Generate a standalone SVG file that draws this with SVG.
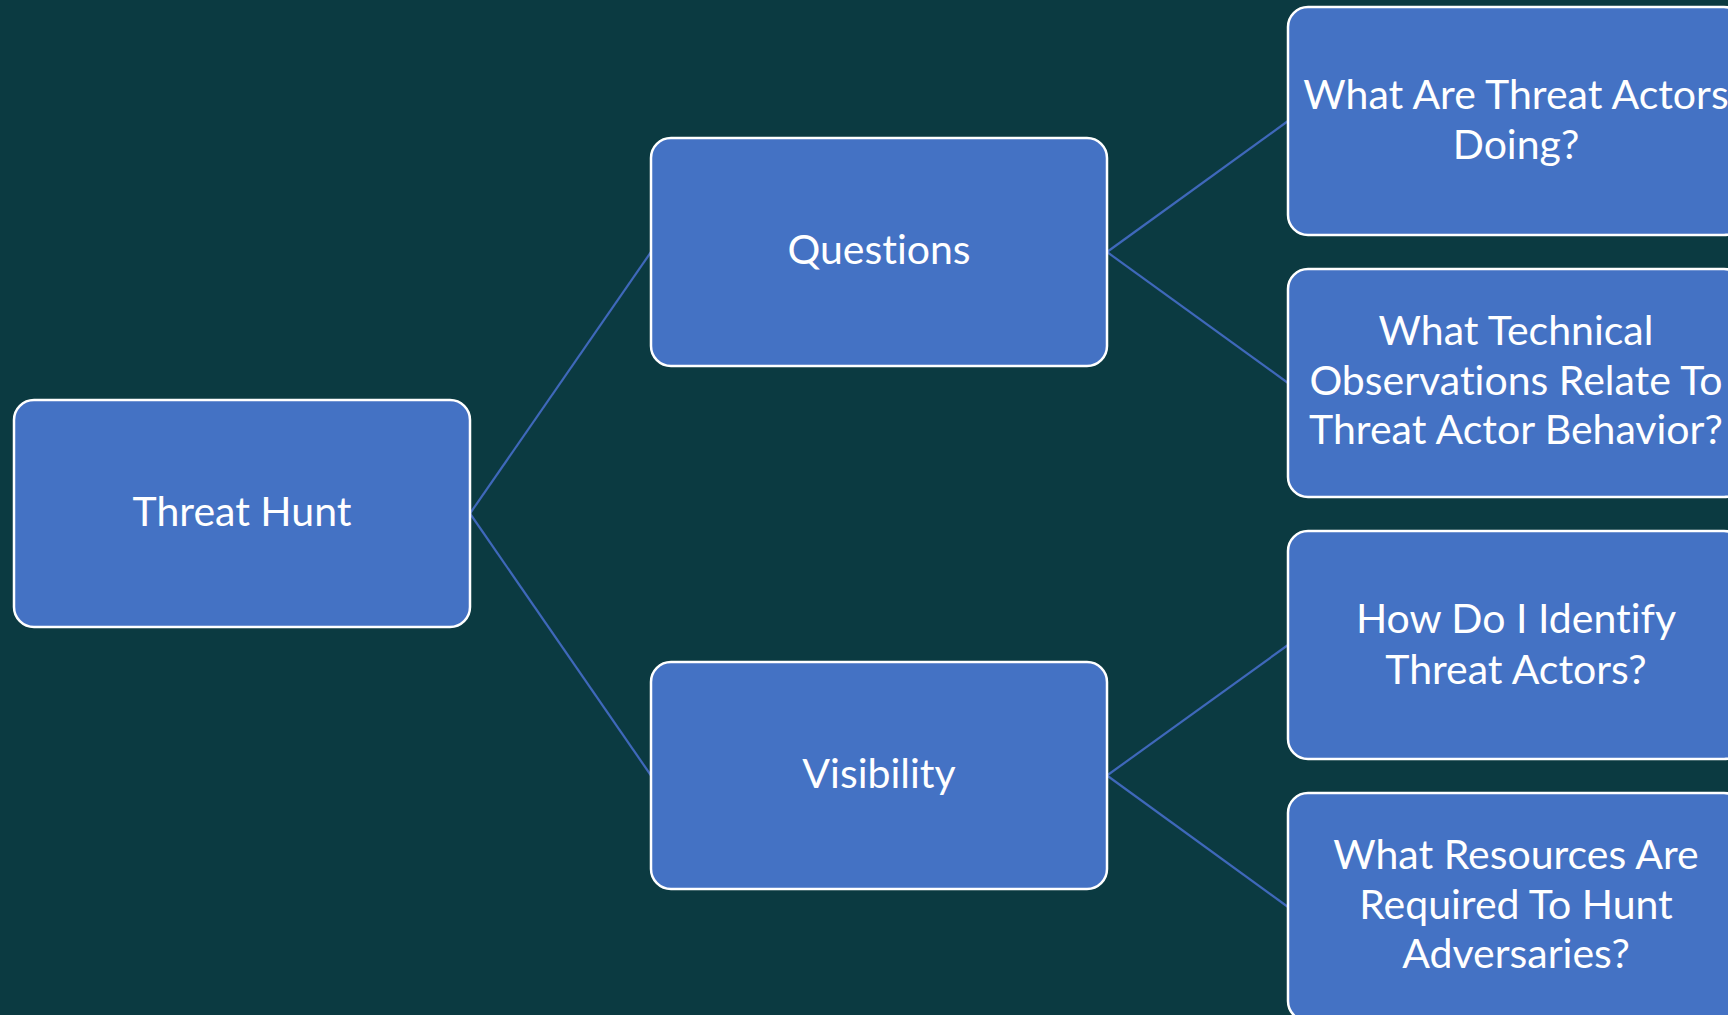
<svg xmlns="http://www.w3.org/2000/svg" width="1728" height="1015" viewBox="0 0 1728 1015">
  <style>
    .box { fill: #4472C4; stroke: #FFFFFF; stroke-width: 2.5; }
    .lbl { fill: #FFFFFF; font-family: Lato, "Open Sans", "Liberation Sans", sans-serif; font-size: 41px; text-anchor: middle; font-variant-ligatures: none; }
    .link { stroke: #3F68BA; stroke-width: 2.2; fill: none; }
  </style>
  <rect width="1728" height="1015" fill="#0B3A41"/>

  <!-- tree connectors -->
  <g id="connectors">
    <path class="link" d="M470,513.5 L651,252"/>
    <path class="link" d="M470,513.5 L651,775.5"/>
    <path class="link" d="M1107,252 L1288,121"/>
    <path class="link" d="M1107,252 L1288,383"/>
    <path class="link" d="M1107,775.5 L1288,645"/>
    <path class="link" d="M1107,775.5 L1288,907"/>
  </g>

  <g id="threat-hunt">
    <rect class="box" x="14" y="400" width="456" height="227" rx="20"/>
    <text class="lbl" x="242" y="526">Threat Hunt</text>
  </g>

  <g id="questions">
    <rect class="box" x="651" y="138" width="456" height="228" rx="20"/>
    <text class="lbl" x="879" y="264">Questions</text>
  </g>

  <g id="visibility">
    <rect class="box" x="651" y="662" width="456" height="227" rx="20"/>
    <text class="lbl" x="879" y="788">Visibility</text>
  </g>

  <g id="q-doing">
    <rect class="box" x="1288" y="7" width="456" height="228" rx="20"/>
    <text class="lbl" x="1516" y="109">What Are Threat Actors</text>
    <text class="lbl" x="1516" y="159">Doing?</text>
  </g>

  <g id="q-observations">
    <rect class="box" x="1288" y="269" width="456" height="228" rx="20"/>
    <text class="lbl" x="1516" y="345">What Technical</text>
    <text class="lbl" x="1516" y="395">Observations Relate To</text>
    <text class="lbl" x="1516" y="444">Threat Actor Behavior?</text>
  </g>

  <g id="q-identify">
    <rect class="box" x="1288" y="531" width="456" height="228" rx="20"/>
    <text class="lbl" x="1516" y="633">How Do I Identify</text>
    <text class="lbl" x="1516" y="684">Threat Actors?</text>
  </g>

  <g id="q-resources">
    <rect class="box" x="1288" y="793" width="456" height="228" rx="20"/>
    <text class="lbl" x="1516" y="869">What Resources Are</text>
    <text class="lbl" x="1516" y="919">Required To Hunt</text>
    <text class="lbl" x="1516" y="968">Adversaries?</text>
  </g>
</svg>
